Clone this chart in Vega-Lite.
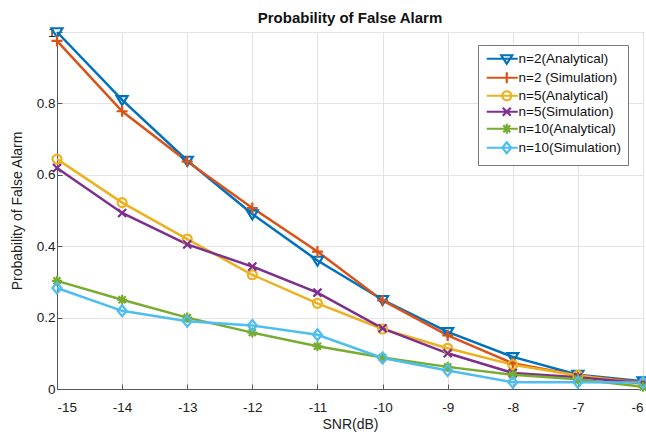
{
  "$schema": "https://vega.github.io/schema/vega-lite/v6.json",
  "autosize": {"type": "none"},
  "width": 586,
  "height": 357,
  "padding": {"left": 57, "top": 32, "right": 3, "bottom": 46},
  "background": "white",
  "config": {
    "font": "Liberation Sans",
    "view": {"stroke": "#555555", "strokeWidth": 1},
    "axis": {
      "labelFont": "Liberation Sans",
      "titleFont": "Liberation Sans",
      "labelFontSize": 13.5,
      "titleFontSize": 14,
      "labelColor": "#222222",
      "titleColor": "#222222",
      "titleFontWeight": "normal",
      "gridColor": "#e3e3e3",
      "gridWidth": 1,
      "domainColor": "#555555",
      "tickColor": "#555555",
      "tickSize": -5
    }
  },
  "title": {"text": "Probability of False Alarm", "font": "Liberation Sans", "fontSize": 15, "fontWeight": "bold", "color": "#111111", "offset": -2, "anchor": "middle"},
  "data": {"values": [
    {"snr": -15, "pfa": 1.0, "series": "n=2(Analytical)"},
    {"snr": -14, "pfa": 0.81, "series": "n=2(Analytical)"},
    {"snr": -13, "pfa": 0.64, "series": "n=2(Analytical)"},
    {"snr": -12, "pfa": 0.49, "series": "n=2(Analytical)"},
    {"snr": -11, "pfa": 0.36, "series": "n=2(Analytical)"},
    {"snr": -10, "pfa": 0.25, "series": "n=2(Analytical)"},
    {"snr": -9, "pfa": 0.16, "series": "n=2(Analytical)"},
    {"snr": -8, "pfa": 0.09, "series": "n=2(Analytical)"},
    {"snr": -7, "pfa": 0.04, "series": "n=2(Analytical)"},
    {"snr": -6, "pfa": 0.022, "series": "n=2(Analytical)"},
    {"snr": -15, "pfa": 0.975, "series": "n=2 (Simulation)"},
    {"snr": -14, "pfa": 0.778, "series": "n=2 (Simulation)"},
    {"snr": -13, "pfa": 0.637, "series": "n=2 (Simulation)"},
    {"snr": -12, "pfa": 0.507, "series": "n=2 (Simulation)"},
    {"snr": -11, "pfa": 0.385, "series": "n=2 (Simulation)"},
    {"snr": -10, "pfa": 0.248, "series": "n=2 (Simulation)"},
    {"snr": -9, "pfa": 0.15, "series": "n=2 (Simulation)"},
    {"snr": -8, "pfa": 0.072, "series": "n=2 (Simulation)"},
    {"snr": -7, "pfa": 0.038, "series": "n=2 (Simulation)"},
    {"snr": -6, "pfa": 0.019, "series": "n=2 (Simulation)"},
    {"snr": -15, "pfa": 0.644, "series": "n=5(Analytical)"},
    {"snr": -14, "pfa": 0.522, "series": "n=5(Analytical)"},
    {"snr": -13, "pfa": 0.42, "series": "n=5(Analytical)"},
    {"snr": -12, "pfa": 0.32, "series": "n=5(Analytical)"},
    {"snr": -11, "pfa": 0.24, "series": "n=5(Analytical)"},
    {"snr": -10, "pfa": 0.168, "series": "n=5(Analytical)"},
    {"snr": -9, "pfa": 0.114, "series": "n=5(Analytical)"},
    {"snr": -8, "pfa": 0.068, "series": "n=5(Analytical)"},
    {"snr": -7, "pfa": 0.038, "series": "n=5(Analytical)"},
    {"snr": -6, "pfa": 0.015, "series": "n=5(Analytical)"},
    {"snr": -15, "pfa": 0.619, "series": "n=5(Simulation)"},
    {"snr": -14, "pfa": 0.493, "series": "n=5(Simulation)"},
    {"snr": -13, "pfa": 0.405, "series": "n=5(Simulation)"},
    {"snr": -12, "pfa": 0.343, "series": "n=5(Simulation)"},
    {"snr": -11, "pfa": 0.27, "series": "n=5(Simulation)"},
    {"snr": -10, "pfa": 0.17, "series": "n=5(Simulation)"},
    {"snr": -9, "pfa": 0.1, "series": "n=5(Simulation)"},
    {"snr": -8, "pfa": 0.045, "series": "n=5(Simulation)"},
    {"snr": -7, "pfa": 0.033, "series": "n=5(Simulation)"},
    {"snr": -6, "pfa": 0.016, "series": "n=5(Simulation)"},
    {"snr": -15, "pfa": 0.303, "series": "n=10(Analytical)"},
    {"snr": -14, "pfa": 0.25, "series": "n=10(Analytical)"},
    {"snr": -13, "pfa": 0.2, "series": "n=10(Analytical)"},
    {"snr": -12, "pfa": 0.158, "series": "n=10(Analytical)"},
    {"snr": -11, "pfa": 0.12, "series": "n=10(Analytical)"},
    {"snr": -10, "pfa": 0.088, "series": "n=10(Analytical)"},
    {"snr": -9, "pfa": 0.062, "series": "n=10(Analytical)"},
    {"snr": -8, "pfa": 0.04, "series": "n=10(Analytical)"},
    {"snr": -7, "pfa": 0.027, "series": "n=10(Analytical)"},
    {"snr": -6, "pfa": 0.006, "series": "n=10(Analytical)"},
    {"snr": -15, "pfa": 0.283, "series": "n=10(Simulation)"},
    {"snr": -14, "pfa": 0.219, "series": "n=10(Simulation)"},
    {"snr": -13, "pfa": 0.19, "series": "n=10(Simulation)"},
    {"snr": -12, "pfa": 0.178, "series": "n=10(Simulation)"},
    {"snr": -11, "pfa": 0.152, "series": "n=10(Simulation)"},
    {"snr": -10, "pfa": 0.087, "series": "n=10(Simulation)"},
    {"snr": -9, "pfa": 0.052, "series": "n=10(Simulation)"},
    {"snr": -8, "pfa": 0.019, "series": "n=10(Simulation)"},
    {"snr": -7, "pfa": 0.019, "series": "n=10(Simulation)"},
    {"snr": -6, "pfa": 0.018, "series": "n=10(Simulation)"}
  ]},
  "encoding": {
    "x": {"field": "snr", "type": "quantitative", "title": "SNR(dB)",
          "scale": {"domain": [-15, -6], "nice": false, "zero": false},
          "axis": {"values": [-15, -14, -13, -12, -11, -10, -9, -8, -7, -6], "labelExpr": "toString(datum.value)", "labelPadding": 16, "titlePadding": 4}},
    "y": {"field": "pfa", "type": "quantitative", "title": "Probability of False Alarm",
          "scale": {"domain": [0, 1], "nice": false},
          "axis": {"values": [0, 0.2, 0.4, 0.6, 0.8, 1], "format": "~g", "labelPadding": 7, "titlePadding": 12}}
  },
  "layer": [
    {
      "mark": {"type": "line", "strokeWidth": 2.5, "clip": false},
      "encoding": {
        "color": {"field": "series", "type": "nominal", "sort": null,
                  "scale": {"domain": ["n=2(Analytical)", "n=2 (Simulation)", "n=5(Analytical)", "n=5(Simulation)", "n=10(Analytical)", "n=10(Simulation)"],
                            "range": ["#0072BD", "#D95319", "#EDB120", "#7E2F8E", "#77AC30", "#4DBEEE"]},
                  "legend": {
                    "title": null, "orient": "none", "legendX": 421, "legendY": 13,
                    "padding": 7, "fillColor": "white", "strokeColor": "#777777",
                    "labelFont": "Liberation Sans", "labelFontSize": 13.5, "labelColor": "#111111",
                    "symbolSize": 100, "labelOffset": 20, "rowPadding": -2,
                    "encode": {"symbols": {"update": {
                      "shape": {"signal": "['M-1,0H5.2M1.9,-0.7H4.1L3,1Z','M-1,0H5.2M3,-1.1V1.1','M-1,0H5.2M2.1,0A0.9,0.9,0,1,1,3.9,0A0.9,0.9,0,1,1,2.1,0Z','M-1,0H5.2M2.2,-0.8L3.8,0.8M2.2,0.8L3.8,-0.8','M-1,0H5.2M3,-1V1M2.3,-0.7L3.7,0.7M2.3,0.7L3.7,-0.7','M-1,0H5.2M3,-1.1L3.9,0L3,1.1L2.1,0Z'][indexof(['n=2(Analytical)','n=2 (Simulation)','n=5(Analytical)','n=5(Simulation)','n=10(Analytical)','n=10(Simulation)'], datum.value)]"},
                      "fill": {"value": "transparent"},
                      "stroke": {"signal": "scale('color', datum.value)"},
                      "strokeWidth": {"value": 2.2}
                    }}}
                  }}
      }
    },
    {
      "transform": [{"filter": "datum.series === 'n=2(Analytical)'"}],
      "mark": {"type": "point", "filled": false, "strokeWidth": 2.2, "size": 100, "opacity": 1, "clip": false, "color": "#0072BD", "shape": "M-1.1,-0.75H1.1L0,1.05Z"}
    },
    {
      "transform": [{"filter": "datum.series === 'n=2 (Simulation)'"}],
      "mark": {"type": "point", "filled": false, "strokeWidth": 2.2, "size": 100, "opacity": 1, "clip": false, "color": "#D95319", "shape": "M-1.1,0H1.1M0,-1.1V1.1"}
    },
    {
      "transform": [{"filter": "datum.series === 'n=5(Analytical)'"}],
      "mark": {"type": "point", "filled": false, "strokeWidth": 2.2, "size": 100, "opacity": 1, "clip": false, "color": "#EDB120", "shape": "M-0.9,0A0.9,0.9,0,1,1,0.9,0A0.9,0.9,0,1,1,-0.9,0Z"}
    },
    {
      "transform": [{"filter": "datum.series === 'n=5(Simulation)'"}],
      "mark": {"type": "point", "filled": false, "strokeWidth": 2.2, "size": 100, "opacity": 1, "clip": false, "color": "#7E2F8E", "shape": "M-0.8,-0.8L0.8,0.8M-0.8,0.8L0.8,-0.8"}
    },
    {
      "transform": [{"filter": "datum.series === 'n=10(Analytical)'"}],
      "mark": {"type": "point", "filled": false, "strokeWidth": 2.2, "size": 100, "opacity": 1, "clip": false, "color": "#77AC30", "shape": "M-1,0H1M0,-1V1M-0.7,-0.7L0.7,0.7M-0.7,0.7L0.7,-0.7"}
    },
    {
      "transform": [{"filter": "datum.series === 'n=10(Simulation)'"}],
      "mark": {"type": "point", "filled": false, "strokeWidth": 2.2, "size": 100, "opacity": 1, "clip": false, "color": "#4DBEEE", "shape": "M0,-1.1L0.9,0L0,1.1L-0.9,0Z"}
    }
  ]
}
